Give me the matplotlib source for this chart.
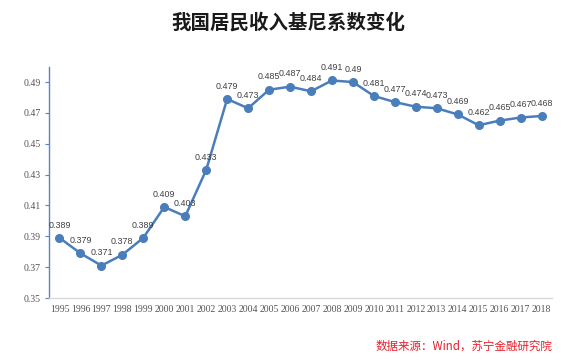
import matplotlib
matplotlib.use("Agg")
import matplotlib.pyplot as plt

years = [str(y) for y in range(1995, 2019)]
gini = [0.389, 0.379, 0.371, 0.378, 0.389, 0.409, 0.403, 0.433, 0.479, 0.473,
        0.485, 0.487, 0.484, 0.491, 0.49, 0.481, 0.477, 0.474, 0.473, 0.469,
        0.462, 0.465, 0.467, 0.468]
yticks = [0.35, 0.37, 0.39, 0.41, 0.43, 0.45, 0.47, 0.49]

plt.rcParams['font.family'] = ['Noto Sans CJK SC', 'DejaVu Sans']

fig = plt.figure(figsize=(5.77, 3.64), dpi=100)
ax = fig.add_axes([0.0849, 0.1813, 0.8718, 0.6357])

x = list(range(len(years)))
color = '#4a7ebb'
ax.plot(x, gini, color=color, lw=1.8, marker='o', ms=5.5, zorder=3)
for xi, v in zip(x, gini):
    ax.annotate(f"{v:g}", (xi, v), xytext=(0, 6), textcoords='offset points',
                ha='center', va='bottom', fontsize=6.4, color='#404040',
                family=['Liberation Sans'])

ax.set_xlim(-0.5, len(years) - 0.5)
ax.set_ylim(0.35, 0.50)
ax.set_yticks(yticks)
ax.set_yticklabels([f"{t:.2f}" for t in yticks])
ax.set_xticks(x)
ax.set_xticklabels(years)
for lab in ax.get_xticklabels() + ax.get_yticklabels():
    lab.set_family(['Liberation Serif'])
    lab.set_fontsize(7)
    lab.set_color('#555555')

ax.spines['top'].set_visible(False)
ax.spines['right'].set_visible(False)
ax.spines['left'].set_color('#5a86b8')
ax.spines['left'].set_linewidth(1.0)
ax.spines['bottom'].set_color('#d9d9d9')
ax.spines['bottom'].set_linewidth(1.0)
ax.tick_params(axis='x', length=0, pad=5)
ax.tick_params(axis='y', length=3, color='#5a86b8', pad=3)

fig.text(0.5, 0.938, '我国居民收入基尼系数变化', ha='center', va='center',
         fontsize=14, fontweight='bold', color='#1a1a1a')
fig.text(0.957, 0.05, '数据来源：Wind，苏宁金融研究院', ha='right', va='center',
         fontsize=8.3, color='#e8202a')

fig.savefig('out.png', dpi=100)
